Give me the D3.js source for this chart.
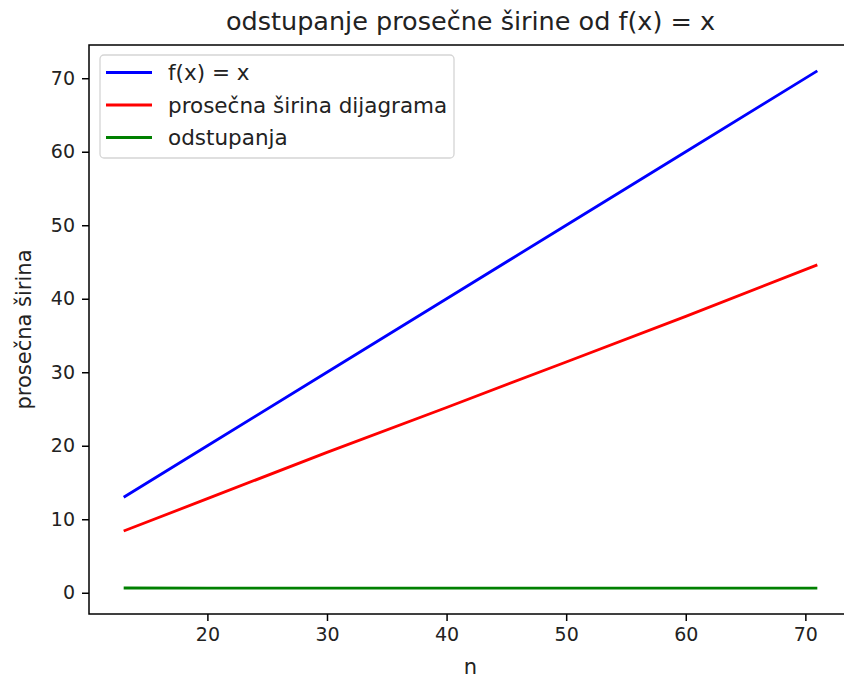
<!DOCTYPE html>
<html>
<head>
<meta charset="utf-8">
<script src="https://cdn.jsdelivr.net/npm/d3@7"></script>
<style>
  body { margin: 0; background: #fff; }
  svg { display: block; font-family: "DejaVu Sans", sans-serif; }
</style>
</head>
<body>
<svg id="chart" width="844" height="678"></svg>
<script>
// data
const nValues = [13, 20, 30, 40, 50, 60, 71];
const fx = [13, 20, 30, 40, 50, 60, 71];
const avgWidth = [8.4, 12.8, 19.1, 25.2, 31.4, 37.6, 44.6];
const deviation = [0.65, 0.64, 0.64, 0.63, 0.63, 0.63, 0.63];
const xTicks = [20, 30, 40, 50, 60, 70];
const yTicks = [0, 10, 20, 30, 40, 50, 60, 70];

const series = [
  { name: 'f(x) = x', color: '#0000ff', values: fx },
  { name: 'prosečna širina dijagrama', color: '#ff0000', values: avgWidth },
  { name: 'odstupanja', color: '#008000', values: deviation }
];

const svg = d3.select('#chart');
const plot = { left: 89, right: 852, top: 45, bottom: 614 };

const x = d3.scaleLinear().domain([10.1, 73.9]).range([plot.left, plot.right]);
const y = d3.scaleLinear().domain([-2.89, 74.52]).range([plot.bottom, plot.top]);

const line = d3.line()
  .x((d, i) => x(nValues[i]))
  .y(d => y(d));

svg.append('g').selectAll('path')
  .data(series)
  .enter().append('path')
  .attr('d', s => line(s.values))
  .attr('fill', 'none')
  .attr('stroke', s => s.color)
  .attr('stroke-width', 2.8);

// axes
const xAxis = d3.axisBottom(x).tickValues(xTicks).tickSize(7).tickPadding(7).tickSizeOuter(0);
const yAxis = d3.axisLeft(y).tickValues(yTicks).tickSize(7).tickPadding(7).tickSizeOuter(0);

const gx = svg.append('g').attr('transform', 'translate(0,' + plot.bottom + ')').call(xAxis);
const gy = svg.append('g').attr('transform', 'translate(' + plot.left + ',0)').call(yAxis);
[gx, gy].forEach(g => {
  g.select('.domain').remove();
  g.selectAll('line').attr('stroke', '#000').attr('stroke-width', 1.5);
  g.selectAll('text').attr('fill', '#222').style('font-size', '19px').style('font-family', 'DejaVu Sans');
});

// spines
svg.append('rect')
  .attr('x', plot.left).attr('y', plot.top)
  .attr('width', plot.right - plot.left).attr('height', plot.bottom - plot.top)
  .attr('fill', 'none').attr('stroke', '#000').attr('stroke-width', 1.5);

// title and labels
svg.append('text')
  .attr('x', (plot.left + plot.right) / 2).attr('y', 30)
  .attr('text-anchor', 'middle')
  .style('font-size', '25.5px').attr('fill', '#222')
  .text('odstupanje prosečne širine od f(x) = x');

svg.append('text')
  .attr('x', (plot.left + plot.right) / 2).attr('y', 674)
  .attr('text-anchor', 'middle')
  .style('font-size', '21px').attr('fill', '#222')
  .text('n');

svg.append('text')
  .attr('transform', 'translate(31,' + ((plot.top + plot.bottom) / 2) + ') rotate(-90)')
  .attr('text-anchor', 'middle')
  .style('font-size', '21px').attr('fill', '#222')
  .text('prosečna širina');

// legend
const lg = svg.append('g');
lg.append('rect')
  .attr('x', 100).attr('y', 55)
  .attr('width', 354).attr('height', 103)
  .attr('rx', 4)
  .attr('fill', '#fff').attr('fill-opacity', 0.8)
  .attr('stroke', '#d5d5d5').attr('stroke-width', 1.3);

const items = lg.selectAll('g.item')
  .data(series)
  .enter().append('g')
  .attr('transform', (d, i) => 'translate(0,' + (72.5 + i * 32.5) + ')');
items.append('line')
  .attr('x1', 106).attr('x2', 152)
  .attr('stroke', d => d.color).attr('stroke-width', 2.8);
items.append('text')
  .attr('x', 168).attr('dy', '0.35em')
  .style('font-size', '21.5px').attr('fill', '#222')
  .text(d => d.name);
</script>
</body>
</html>
